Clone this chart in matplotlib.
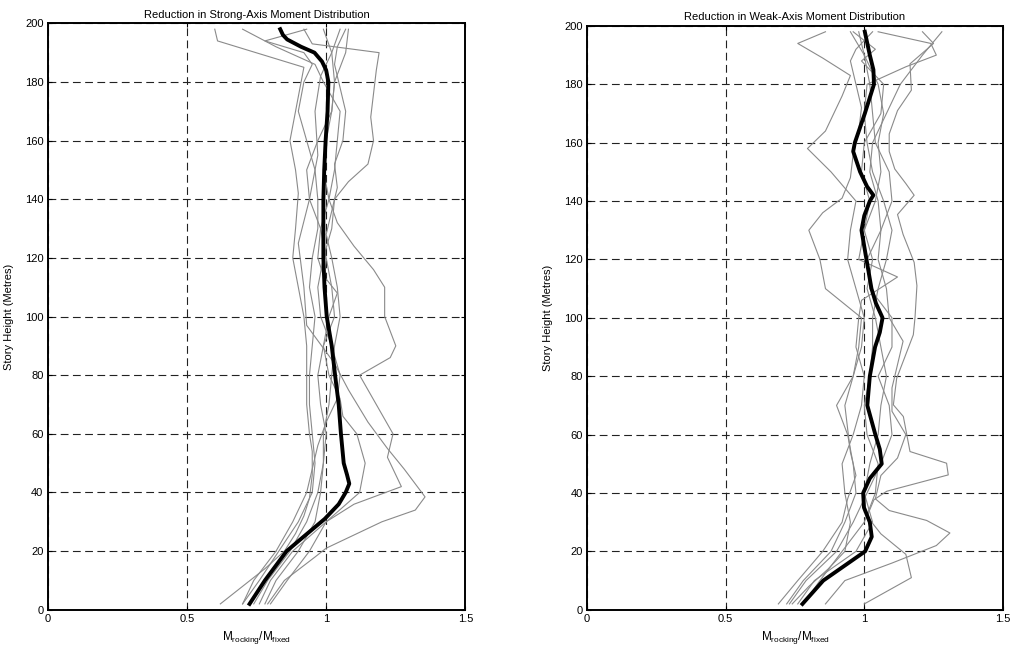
import numpy as np
import matplotlib
matplotlib.use("Agg")
import matplotlib.pyplot as plt

plt.rcParams['font.family'] = ['Liberation Sans', 'DejaVu Sans']
plt.rcParams['mathtext.fontset'] = 'custom'
plt.rcParams['mathtext.rm'] = 'Liberation Sans'
plt.rcParams['mathtext.it'] = 'Liberation Sans'

# ---- strong axis: individual records (height, ratio) ----
strong_y = [
    [2, 8, 14, 20, 26, 32, 38, 46, 54, 60, 70, 80, 90, 100, 110, 120, 130, 142, 150, 160, 170, 180, 185, 194, 198],
    [2, 10, 20, 30, 36, 42, 52, 60, 70, 80, 86, 90, 100, 110, 116, 124, 132, 140, 150, 160, 170, 180, 190, 198],
    [2, 10, 20, 30, 40, 48, 56, 64, 72, 80, 90, 100, 110, 120, 130, 140, 146, 152, 160, 168, 176, 184, 190, 193, 198],
    [2, 10, 18, 21, 30, 34, 38.5, 48, 55, 64, 75, 84, 97, 110, 125, 140, 155, 170, 182, 190, 198],
    [2, 10, 20, 30, 40, 50, 60, 66, 72, 80, 90, 100, 108, 114, 120, 130, 140, 150, 160, 170, 180, 186, 192, 198],
    [2, 10, 20, 30, 40, 50, 60, 70, 80, 90, 100, 110, 120, 130, 140, 150, 160, 170, 180, 186, 190, 194, 198],
    [2, 10, 20, 30, 40, 50, 60, 70, 80, 90, 100, 110, 120, 130, 140, 150, 160, 170, 180, 190, 198],
    [2, 10, 20, 30, 40, 50, 60, 70, 80, 90, 100, 110, 120, 128, 136, 144, 152, 160, 170, 178, 186, 192, 198],
]
strong_x = [
    [0.62, 0.70, 0.78, 0.85, 0.89, 0.92, 0.94, 0.95, 0.95, 0.94, 0.93, 0.93, 0.93, 0.92, 0.90, 0.88, 0.89, 0.90, 0.89, 0.87, 0.89, 0.91, 0.92, 0.61, 0.60],
    [0.76, 0.80, 0.88, 1.00, 1.10, 1.27, 1.22, 1.24, 1.18, 1.12, 1.23, 1.25, 1.21, 1.21, 1.17, 1.10, 1.04, 1.01, 0.99, 1.00, 1.02, 1.03, 1.07, 1.08],
    [0.70, 0.74, 0.82, 0.88, 0.93, 0.95, 0.97, 1.00, 1.04, 1.05, 1.02, 0.98, 0.97, 0.99, 1.02, 1.03, 1.08, 1.15, 1.17, 1.16, 1.17, 1.18, 1.19, 0.95, 0.92],
    [0.79, 0.85, 0.96, 1.00, 1.20, 1.32, 1.355, 1.28, 1.22, 1.15, 1.08, 1.03, 0.93, 0.92, 0.90, 0.94, 0.97, 0.96, 0.98, 1.02, 1.05],
    [0.80, 0.86, 0.94, 1.00, 1.12, 1.14, 1.11, 1.06, 1.05, 1.01, 0.99, 1.01, 1.04, 0.99, 0.97, 0.98, 1.01, 1.03, 1.04, 1.05, 0.99, 0.96, 0.82, 0.70],
    [0.70, 0.76, 0.83, 0.90, 0.95, 0.96, 0.95, 0.94, 0.94, 0.95, 0.96, 0.94, 0.95, 0.97, 0.97, 0.96, 0.93, 0.90, 0.92, 0.95, 0.92, 0.78, 0.93],
    [0.78, 0.82, 0.90, 0.96, 0.98, 0.99, 1.00, 0.98, 0.97, 0.99, 1.03, 1.02, 1.00, 0.98, 0.94, 0.93, 0.97, 1.02, 1.03, 1.02, 0.99],
    [0.74, 0.79, 0.87, 0.93, 0.97, 0.99, 0.99, 1.01, 1.02, 1.03, 1.05, 1.04, 1.02, 1.00, 1.02, 1.04, 1.03, 1.06, 1.07, 1.05, 1.03, 1.04, 1.07],
]
strong_mean_y = [2, 10, 20, 25, 31, 36, 40, 43, 46, 50, 60, 70, 80, 90, 100, 110, 120, 130, 140, 150,
                 160, 170, 180, 184, 187, 190, 192, 194.5, 196, 198]
strong_mean_x = [0.725, 0.78, 0.858, 0.92, 0.995, 1.045, 1.07, 1.083, 1.075, 1.063, 1.053, 1.045, 1.032, 1.02,
                 1.002, 0.994, 0.99, 0.99, 0.99, 0.993, 0.998, 1.005, 1.008, 1.0, 0.985, 0.958, 0.91, 0.86, 0.845, 0.835]

# ---- weak axis ----
weak_y = [
    [2, 10, 20, 30, 38, 46, 54, 62, 70, 80, 90, 100, 110, 120, 130, 140, 150, 158, 164, 170, 176, 183, 189, 194, 198],
    [2, 10, 20, 30, 40, 50, 60, 70, 80, 90, 100, 110, 120, 130, 136, 141, 148, 156, 164, 172, 180, 188, 192, 198],
    [2, 10, 16, 22, 26.3, 30.6, 34, 38, 46, 52, 60, 68, 76, 84, 92, 100, 110, 120, 130, 140, 150, 160, 170, 180, 190, 198],
    [2, 11, 19, 26, 32, 37.7, 40.6, 46.2, 50.2, 54.2, 66.2, 70.2, 79.3, 94.2, 100, 111, 119, 128.6, 135.4, 142,
     146, 151, 157, 163, 171, 178, 187, 194, 198],
    [2, 8, 14, 20, 30, 40, 50, 60, 70, 80, 90, 100, 106, 114, 120, 130, 140, 150, 160, 170, 180, 188, 192, 198],
    [2, 10, 20, 30, 40, 50, 60, 70, 80, 90, 100, 110, 120, 130, 140, 150, 160, 170, 180, 186, 190, 194, 198],
    [2, 10, 20, 30, 40, 50, 60, 70, 80, 90, 100, 110, 120, 130, 140, 150, 160, 170, 180, 190, 198],
    [2, 10, 20, 30, 40, 50, 60, 70, 80, 90, 100, 110, 120, 130, 140, 150, 160, 170, 180, 190, 198],
]
weak_x = [
    [0.69, 0.76, 0.85, 0.92, 0.94, 0.97, 0.95, 0.94, 0.93, 0.96, 0.99, 1.00, 0.97, 0.94, 0.95, 0.97, 0.88, 0.795,
     0.86, 0.89, 0.92, 0.95, 0.85, 0.76, 0.86],
    [0.72, 0.78, 0.88, 0.93, 0.97, 0.96, 0.94, 0.90, 0.96, 0.98, 0.99, 0.86, 0.84, 0.80, 0.85, 0.92, 0.95, 0.96,
     0.98, 0.99, 0.97, 0.95, 0.97, 1.03],
    [0.86, 0.93, 1.10, 1.26, 1.309, 1.225, 1.09, 1.04, 1.06, 1.12, 1.15, 1.10, 1.10, 1.12, 1.14, 1.09, 1.08, 1.05,
     1.06, 1.10, 1.09, 1.04, 1.03, 1.02, 1.00, 0.98],
    [1.00, 1.17, 1.15, 1.06, 1.01, 1.035, 1.081, 1.303, 1.297, 1.165, 1.141, 1.105, 1.117, 1.177, 1.183, 1.19,
     1.18, 1.14, 1.12, 1.18, 1.15, 1.11, 1.09, 1.09, 1.12, 1.17, 1.165, 1.25, 1.21],
    [0.74, 0.80, 0.87, 0.93, 0.95, 0.93, 0.92, 0.96, 0.99, 1.00, 0.97, 0.98, 0.99, 1.12, 0.98, 1.00, 1.02, 0.99,
     1.00, 1.06, 1.07, 0.99, 1.04, 0.96],
    [0.78, 0.84, 0.92, 1.00, 1.04, 1.05, 1.01, 1.00, 1.02, 1.03, 1.03, 1.05, 1.08, 1.10, 1.07, 1.03, 1.01, 1.00,
     1.01, 1.15, 1.26, 1.24, 1.05],
    [0.76, 0.82, 0.97, 1.03, 1.00, 1.02, 1.05, 1.06, 1.08, 1.06, 1.04, 1.01, 1.03, 1.00, 1.04, 1.06, 1.05, 1.07,
     1.05, 1.00, 0.95],
    [0.73, 0.79, 0.90, 0.96, 1.01, 1.06, 1.10, 1.09, 1.05, 1.10, 1.10, 1.02, 1.01, 1.06, 1.05, 1.02, 1.03, 1.08,
     1.13, 1.21, 1.28],
]
weak_mean_y = [2, 10, 20, 25, 30, 35, 40, 45, 50, 55, 60, 70, 80, 90, 95, 100, 105, 110, 120, 130, 135, 140,
               142, 145, 150, 157, 160, 170, 180, 185, 190, 198]
weak_mean_x = [0.777, 0.852, 1.003, 1.027, 1.02, 0.999, 0.996, 1.02, 1.063, 1.056, 1.04, 1.011, 1.02, 1.039,
               1.056, 1.066, 1.042, 1.026, 1.008, 0.99, 1.0, 1.02, 1.033, 1.01, 0.985, 0.96, 0.966, 1.002,
               1.035, 1.033, 1.02, 1.002]

titles = ['Reduction in Strong-Axis Moment Distribution', 'Reduction in Weak-Axis Moment Distribution']
xticks = [0, 0.5, 1, 1.5]
xticklabels = ['0', '0.5', '1', '1.5']
yticks = np.arange(0, 201, 20)

fig = plt.figure(figsize=(10.14, 6.48), dpi=100)
ax1 = fig.add_axes([0.047, 0.059, 0.412, 0.905])
ax2 = fig.add_axes([0.579, 0.059, 0.410, 0.901])

panels = [(ax1, strong_y, strong_x, strong_mean_y, strong_mean_x),
          (ax2, weak_y, weak_x, weak_mean_y, weak_mean_x)]

for i, (ax, ys, xs, my, mx) in enumerate(panels):
    for y, x in zip(ys, xs):
        ax.plot(x, y, color='#8a8a8a', lw=0.8)
    ax.plot(mx, my, color='k', lw=2.8)

    ax.set_xlim(0, 1.5)
    ax.set_ylim(0, 200)
    ax.set_xticks(xticks)
    ax.set_xticklabels(xticklabels)
    ax.set_yticks(yticks)
    ax.grid(True, color='#222222', lw=0.8, linestyle=(0, (7, 4)))
    ax.tick_params(direction='in', top=True, right=True, length=3, labelsize=8, pad=3)
    for s in ax.spines.values():
        s.set_linewidth(1.4)
    ax.set_title(titles[i], fontsize=8, pad=4)
    ax.set_xlabel(r'M$_{\mathrm{rocking}}$/M$_{\mathrm{fixed}}$', fontsize=8.5, labelpad=4)
    ax.set_ylabel('Story Height (Metres)', fontsize=8, labelpad=8)

fig.savefig('out.png', dpi=100)
